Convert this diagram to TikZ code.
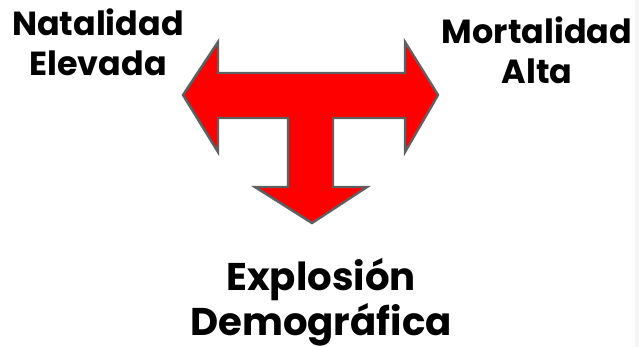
\documentclass[tikz,border=0pt]{standalone}
\usepackage{fontspec}
\setmainfont{Poppins}[BoldFont={* Bold}]
\usetikzlibrary{positioning}
\definecolor{arrowred}{RGB}{255,0,0}
\definecolor{edgegray}{RGB}{95,95,95}
\tikzset{
    lbl/.style={font=\bfseries\fontsize{19}{22.7}\selectfont, align=center, inner sep=0pt},
    biglbl/.style={font=\bfseries\fontsize{22}{25.6}\selectfont, align=center, inner sep=0pt},
    tarrow/.style={fill=arrowred, draw=edgegray, line width=1.4pt, line join=miter}
}

\begin{document}
\begin{tikzpicture}[x=0.02cm,y=-0.02cm]
           \useasboundingbox (0,0) rectangle (639,347);
           \fill[gray!8] (635,0) rectangle (639,347);
           % the three-way arrow
           \draw[tarrow] (183,95) -- (218,42) -- (218,73) -- (405,73) -- (405,42) -- (438,95)
                -- (405,152) -- (405,118) -- (333,118) -- (333,187) -- (367,187) -- (312,223)
                -- (255,187) -- (288,187) -- (288,118) -- (218,118) -- (218,152) -- cycle;
           \node[lbl] (natalidad) at (98,42) {Natalidad\\Elevada};
           \node[lbl] (mortalidad) at (537,50) {Mortalidad\\Alta};
           \node[biglbl] (explosion) at (321,302) {Explosión\\Demográfica};
\end{tikzpicture}
\end{document}
